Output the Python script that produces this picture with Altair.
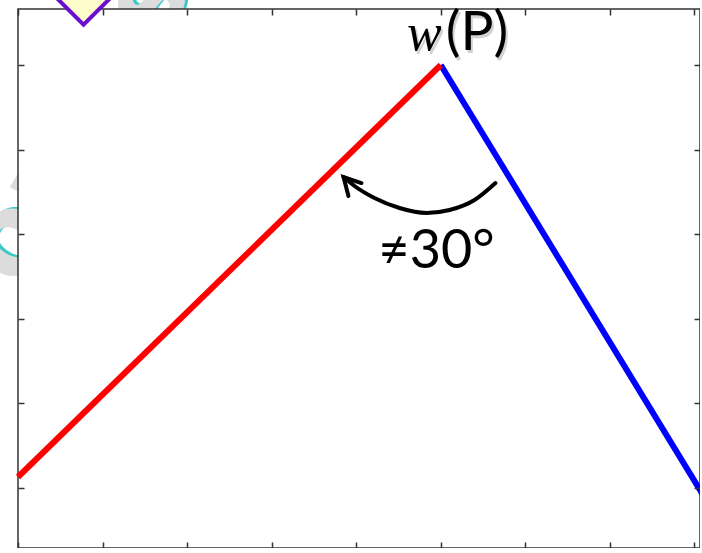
import altair as alt
import pandas as pd

# axis ticks and domains (data units)
x_ticks = [0, 1, 2, 3, 4, 5, 6, 7, 8]
y_ticks = [1, 2, 3, 4, 5, 6]
x_domain = [0, 8.066]
y_domain = [0.291, 6.662]

# the two segments
red_x = [0.0, 5.0]
red_y = [1.13, 6.0]
blue_x = [5.0, 8.1]
blue_y = [6.0, 0.92]

# curved arrow
arc_x = [5.647, 5.399, 5.104, 4.831, 4.512, 4.216, 3.980, 3.850]
arc_y = [4.605, 4.404, 4.286, 4.251, 4.310, 4.428, 4.570, 4.676]
head_x = [4.062, 3.850, 3.908]
head_y = [4.605, 4.676, 4.452]

# labels
peak_label_x = [5.0]
peak_label_y = [6.18]
angle_text = ["≠30°"]
angle_x = [4.95]
angle_y = [3.60]

# decorations
marker_x = [0.775]
marker_y = [6.83]
wm_text = ["ouarse"]
wm_x = [0.024]
wm_y = [3.34]

xs = alt.Scale(domain=x_domain, nice=False, zero=False)
ys = alt.Scale(domain=y_domain, nice=False, zero=False)

TICK = dict(labels=False, title="", domain=False, grid=False, tickSize=6, offset=-6,
            tickColor="#333333", tickWidth=1.5, zindex=1)

def df(**cols):
    return pd.DataFrame(cols)

# watermark (only visible outside the frame)
wm_df = df(x=wm_x, y=wm_y, t=wm_text)
wm_shadow = alt.Chart(wm_df).mark_text(
    align="left", baseline="alphabetic", angle=300, fontSize=110, fontWeight="bold",
    font="DejaVu Sans", color="#3cc8c8", dx=3, dy=2, clip=False
).encode(x=alt.X("x:Q", scale=xs, axis=None), y=alt.Y("y:Q", scale=ys, axis=None), text="t:N")
wm = alt.Chart(wm_df).mark_text(
    align="left", baseline="alphabetic", angle=300, fontSize=110, fontWeight="bold",
    font="DejaVu Sans", color="#dcdcdc", clip=False
).encode(x=alt.X("x:Q", scale=xs, axis=None), y=alt.Y("y:Q", scale=ys, axis=None), text="t:N")

# white plot area with frame
frame = alt.Chart(df(a=[0])).mark_rect(fill="white", stroke="#333333", strokeWidth=1.5).encode(
    x=alt.value(0), x2=alt.value(682), y=alt.value(0), y2=alt.value(539)
)

blue = alt.Chart(df(x=blue_x, y=blue_y)).mark_line(color="#0000ff", strokeWidth=6, clip=True).encode(
    x=alt.X("x:Q", scale=xs, axis=alt.Axis(orient="bottom", values=x_ticks, **TICK)),
    y=alt.Y("y:Q", scale=ys, axis=alt.Axis(orient="left", values=y_ticks, **TICK)),
)
red = alt.Chart(df(x=red_x, y=red_y)).mark_line(color="#ff0000", strokeWidth=6, clip=False).encode(
    x=alt.X("x:Q", scale=xs, axis=None), y=alt.Y("y:Q", scale=ys, axis=None)
)

arc = alt.Chart(df(x=arc_x, y=arc_y)).mark_line(color="black", strokeWidth=4, interpolate="monotone",
                                                strokeCap="round").encode(
    x=alt.X("x:Q", scale=xs, axis=alt.Axis(orient="top", values=x_ticks, **TICK)),
    y=alt.Y("y:Q", scale=ys, axis=alt.Axis(orient="right", values=y_ticks, **TICK)),
)
head = alt.Chart(df(x=head_x, y=head_y, i=[0, 1, 2])).mark_line(
    color="black", strokeWidth=4, strokeCap="round", strokeJoin="miter").encode(
    x=alt.X("x:Q", scale=xs, axis=None), y=alt.Y("y:Q", scale=ys, axis=None), order="i:Q"
)

marker = alt.Chart(df(x=marker_x, y=marker_y)).mark_point(
    shape="diamond", size=3600, filled=True, fill="#fffccc", stroke="#6a0fd0", strokeWidth=4,
    opacity=1, clip=False
).encode(x=alt.X("x:Q", scale=xs, axis=None), y=alt.Y("y:Q", scale=ys, axis=None))

lab_df = df(x=peak_label_x, y=peak_label_y, w=["w"], p=["(P)"])
def lab(field, align, font, style, size, color, dx, dy):
    return alt.Chart(lab_df).mark_text(
        align=align, baseline="alphabetic", font=font, fontStyle=style, fontSize=size,
        color=color, dx=dx, dy=dy, clip=False
    ).encode(x=alt.X("x:Q", scale=xs, axis=None), y=alt.Y("y:Q", scale=ys, axis=None), text=f"{field}:N")

w_sh = lab("w", "right", "Liberation Serif", "italic", 52, "#d2d2d2", 3, 3)
p_sh = lab("p", "left", "Lato", "normal", 55, "#d2d2d2", 7, 3)
w_t = lab("w", "right", "Liberation Serif", "italic", 52, "black", 1, 0)
p_t = lab("p", "left", "Lato", "normal", 55, "black", 5, 0)

ang = alt.Chart(df(x=angle_x, y=angle_y, t=angle_text)).mark_text(
    align="center", baseline="alphabetic", font="Lato", fontSize=54, color="black"
).encode(x=alt.X("x:Q", scale=xs, axis=None), y=alt.Y("y:Q", scale=ys, axis=None), text="t:N")

chart = alt.layer(
    wm_shadow, wm, frame, blue, red, arc, head, marker, w_sh, p_sh, w_t, p_t, ang
).resolve_axis(x="independent", y="independent").properties(
    width=682, height=539,
    autosize=alt.AutoSizeParams(type="none"),
    padding={"left": 18, "top": 9, "right": 0, "bottom": 0},
    background="white",
).configure_view(stroke=None)

chart.save("out.html", embed_options={"renderer": "svg", "actions": False})
